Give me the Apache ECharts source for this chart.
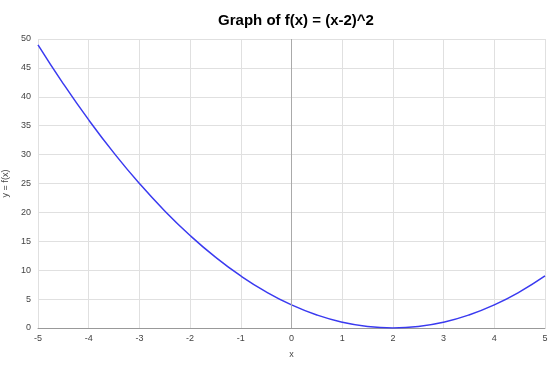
<!DOCTYPE html>
<html><head><meta charset="utf-8">
<script src="https://cdn.jsdelivr.net/npm/echarts@6/dist/echarts.min.js"></script>
<style>html,body{margin:0;padding:0;background:#fff}#c{width:550px;height:367px}</style>
</head><body><div id="c"></div>
<script>
var xValues = [-5,-4.5,-4,-3.5,-3,-2.5,-2,-1.5,-1,-0.5,0,0.5,1,1.5,2,2.5,3,3.5,4,4.5,5];
var yValues = [49,42.25,36,30.25,25,20.25,16,12.25,9,6.25,4,2.25,1,0.25,0,0.25,1,2.25,4,6.25,9];
var titleText = 'Graph of f(x) = (x-2)^2';
var xName = 'x', yName = 'y = f(x)';
var xTicks = {min:-5, max:5, interval:1};
var yTicks = {min:0, max:50, interval:5};

var data = xValues.map(function(x,i){return [x, yValues[i]];});
var chart = echarts.init(document.getElementById('c'), null, {renderer:'canvas'});
chart.setOption({
  animation:false,
  title:{text:titleText, left:291, textAlign:'center', top:8,
    textStyle:{fontFamily:'Liberation Sans, Arial', fontSize:15, fontWeight:'bold', color:'#000'}},
  grid:{left:38, right:5, top:39, bottom:39, containLabel:false, outerBoundsMode:'none'},
  xAxis:{type:'value', min:xTicks.min, max:xTicks.max, interval:xTicks.interval,
    name:xName, nameLocation:'middle', nameGap:22,
    nameTextStyle:{fontFamily:'Liberation Sans, Arial', fontSize:9, color:'#444'},
    axisLine:{show:true, onZero:false, lineStyle:{color:'#999', width:1}},
    axisTick:{show:false},
    axisLabel:{fontFamily:'Liberation Sans, Arial', fontSize:9, color:'#444', margin:6},
    splitLine:{show:true, lineStyle:{color:'#e0e0e0', width:1}}},
  yAxis:{type:'value', min:yTicks.min, max:yTicks.max, interval:yTicks.interval,
    name:yName, nameLocation:'middle', nameGap:23, nameRotate:90,
    nameTextStyle:{fontFamily:'Liberation Sans, Arial', fontSize:9, color:'#444'},
    axisLine:{show:false}, axisTick:{show:false},
    axisLabel:{fontFamily:'Liberation Sans, Arial', fontSize:9, color:'#444', margin:7},
    splitLine:{show:true, lineStyle:{color:'#e0e0e0', width:1}}},
  series:[{type:'line', data:data, smooth:true, showSymbol:false,
    lineStyle:{color:'#3a3af0', width:1.5},
    markLine:{silent:true, symbol:'none', label:{show:false},
      lineStyle:{color:'#aaa', type:'solid', width:1},
      data:[{xAxis:0}]}}]
});
</script></body></html>
